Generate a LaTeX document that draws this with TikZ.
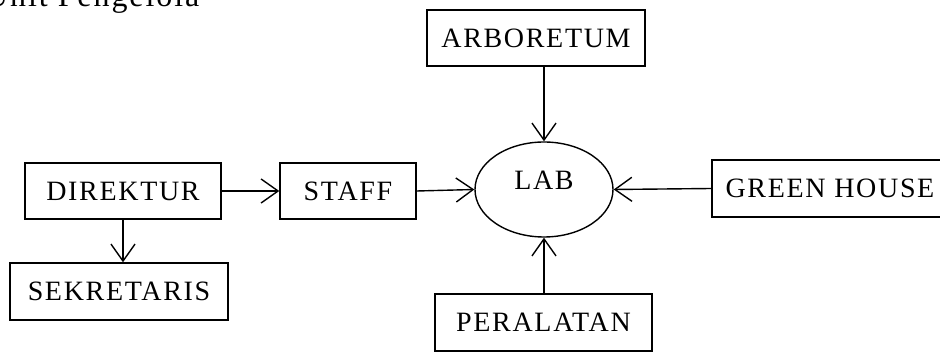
\documentclass[tikz,border=0pt]{standalone}
\usepackage{fontspec}
\setmainfont{Liberation Serif}[LetterSpace=6]
\usetikzlibrary{arrows.meta,shapes.geometric}
\tikzset{
  box/.style={draw, line width=1.4pt, inner sep=0pt, font=\fontsize{28}{30}\selectfont},
  oval/.style={draw, ellipse, line width=1.4pt, inner sep=0pt, font=\fontsize{28}{30}\selectfont},
  arr/.style={line width=1.4pt, -{Straight Barb[length=17pt,width=24pt,line width=1.4pt]}},
}
\begin{document}
\begin{tikzpicture}[x=1pt,y=-1pt]
\useasboundingbox (0,0) rectangle (940,352);
\node[anchor=base west, font=\fontsize{32}{34}\selectfont, inner sep=0pt] (title) at (-15,7) {Unit Pengelola};
\node[box, minimum width=218pt, minimum height=56pt] (arb) at (536,38) {ARBORETUM};
\node[box, minimum width=196pt, minimum height=56pt] (dir) at (123,191) {DIREKTUR};
\node[box, minimum width=136pt, minimum height=56pt] (staff) at (348,191) {STAFF};
\node[box, minimum width=218pt, minimum height=57pt] (sek) at (119,291.5) {SEKRETARIS};
\node[box, minimum width=236pt, minimum height=57pt] (green) at (830,188.5) {GREEN HOUSE};
\node[box, minimum width=217pt, minimum height=57pt] (per) at (543.5,322.5) {PERALATAN};
\node[oval, minimum width=138pt, minimum height=95pt] (lab) at (544,189.5) {};
\node[font=\fontsize{28}{30}\selectfont, inner sep=0pt] (labtxt) at (544,180) {LAB};
\draw[arr] (dir.east) -- (staff.west);
\draw[arr] (staff.east) -- (lab.west);
\draw[arr] (green.west) -- (lab.east);
\draw[arr] (arb.south -| lab.north) -- (lab.north);
\draw[arr] (per.north -| lab.south) -- (lab.south);
\draw[arr] (dir.south) -- (sek.north -| dir.south);
\end{tikzpicture}
\end{document}
